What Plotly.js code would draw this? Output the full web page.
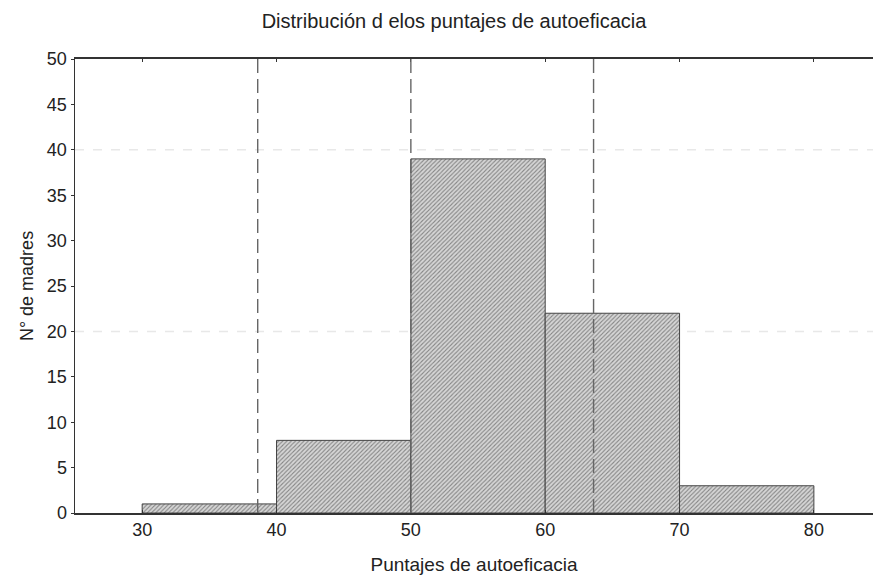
<!DOCTYPE html>
<html>
<head>
<meta charset="utf-8">
<script src="https://cdn.plot.ly/plotly-3.0.1.min.js"></script>
<style>html,body{margin:0;padding:0;background:#fff;}</style>
</head>
<body>
<div id="chart" style="width:873px;height:575px;"></div>
<script>
// Data
const binCenters = [35, 45, 55, 65, 75];
const counts = [1, 8, 39, 22, 3];
const refLinesX = [38.6, 50, 63.6];
const refLinesY = [20, 40];
const xTicks = [30, 40, 50, 60, 70, 80];
const yTicks = [0, 5, 10, 15, 20, 25, 30, 35, 40, 45, 50];

const font = 'Liberation Sans, Arial, sans-serif';

const bars = {
  type: 'bar',
  x: binCenters,
  y: counts,
  width: 10,
  marker: {
    color: '#d0d0d0',
    line: {color: '#444', width: 1},
    pattern: {shape: '/', fgcolor: '#858585', bgcolor: '#d6d6d6', size: 3, solidity: 0.35}
  },
  hoverinfo: 'x+y',
  showlegend: false
};

const shapes = [];
refLinesY.forEach(v => shapes.push({
  type: 'line', xref: 'paper', x0: 0, x1: 1, yref: 'y', y0: v, y1: v,
  line: {color: '#e8e8e8', width: 1.5, dash: 'dash'}, layer: 'below'
}));
refLinesX.forEach(v => shapes.push({
  type: 'line', xref: 'x', x0: v, x1: v, yref: 'paper', y0: 0, y1: 1,
  line: {color: '#666', width: 1.4, dash: '14px,6px'}, layer: 'above'
}));

const layout = {
  width: 873, height: 575,
  margin: {l: 75, r: 0, t: 59, b: 62},
  paper_bgcolor: '#fff', plot_bgcolor: '#fff',
  font: {family: font, size: 18, color: '#222'},
  title: {text: 'Distribución d elos puntajes de autoeficacia', x: 454/873, xref: 'container', xanchor: 'center', y: 1 - 21/575, yref: 'container', yanchor: 'middle', font: {family: font, size: 20, color: '#222'}},
  bargap: 0,
  xaxis: {
    range: [25, 84.4], tickvals: xTicks, ticktext: xTicks.map(String),
    showgrid: false, zeroline: false, showline: true, linecolor: '#333', linewidth: 1.8,
    mirror: 'ticks', ticks: 'inside', ticklen: 3, tickcolor: '#333',
    title: {text: 'Puntajes de autoeficacia', standoff: 18, font: {family: font, size: 19}},
    tickfont: {family: font, size: 18}
  },
  yaxis: {
    range: [0, 50], tickvals: yTicks, ticktext: yTicks.map(String),
    showgrid: false, zeroline: false, showline: true, linecolor: '#333', linewidth: 1.5,
    ticks: 'outside', ticklen: 3, tickcolor: '#333',
    title: {text: 'N° de madres', standoff: 8, font: {family: font, size: 18}},
    tickfont: {family: font, size: 18}
  },
  shapes: shapes
};

Plotly.newPlot('chart', [bars], layout, {displayModeBar: false, staticPlot: true});
</script>
</body>
</html>
